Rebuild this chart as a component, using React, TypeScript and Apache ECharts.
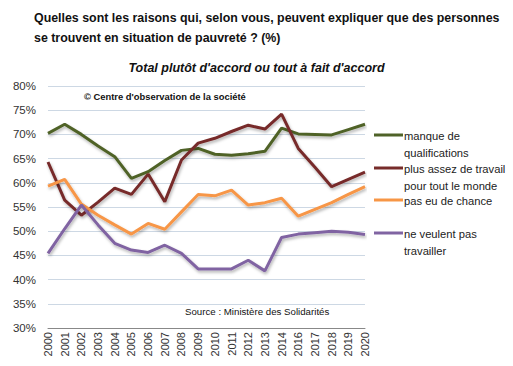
import React, { useEffect, useRef } from "react";
import * as echarts from "echarts";

const years = ["2000","2001","2002","2003","2004","2005","2006","2007","2008","2009","2010","2011","2012","2013","2014","2016","2017","2018","2019","2020"];
const manqueQualif = [70.2,72.1,70.0,67.6,65.4,60.9,62.3,64.6,66.7,67.1,65.9,65.7,66.0,66.5,71.3,70.1,70.0,69.9,71.0,72.1];
const plusAssezTravail = [64.3,56.4,53.3,56.0,58.9,57.6,61.8,56.1,64.7,68.2,69.2,70.6,71.9,71.1,74.2,67.1,63.2,59.2,60.7,62.2];
const pasEuChance = [59.3,60.7,55.6,53.3,51.3,49.4,51.6,50.4,54.0,57.6,57.3,58.5,55.4,55.9,56.8,53.1,54.5,55.9,57.6,59.2];
const neVeulentPas = [45.4,50.5,55.4,51.3,47.5,46.1,45.6,47.1,45.4,42.2,42.2,42.2,44.0,41.8,48.7,49.4,49.7,50.0,49.8,49.3];

const seriesNames = [
  "manque de\nqualifications",
  "plus assez de travail\npour tout le monde",
  "pas eu de chance",
  "ne veulent pas\ntravailler",
];
const colors = ["#4F6228", "#772C2A", "#F79646", "#8064A2"];
const yTicks = { min: 30, max: 80, interval: 5 };

const FONT = "Liberation Sans";

export default function App() {
  const ref = useRef<HTMLDivElement>(null);
  useEffect(() => {
    if (!ref.current) return;
    const chart = echarts.init(ref.current, null, { renderer: "svg" });
    const data = [manqueQualif, plusAssezTravail, pasEuChance, neVeulentPas];
    const legendY = [135, 168, 200, 233];
    const legendGraphics: any[] = [];
    seriesNames.forEach((n, i) => {
      legendGraphics.push({
        type: "line",
        shape: { x1: 374, y1: legendY[i], x2: 403, y2: legendY[i] },
        style: { stroke: colors[i], lineWidth: 3 },
      });
      legendGraphics.push({
        type: "text",
        x: 404,
        y: legendY[i] - 8,
        style: {
          text: n,
          font: `11.2px "${FONT}"`,
          fill: "#222",
          lineHeight: 17,
          textVerticalAlign: "top",
        },
      });
    });
    chart.setOption({
      animation: false,
      backgroundColor: "#fff",
      title: [
        {
          text: "Quelles sont les raisons qui, selon vous, peuvent expliquer que des personnes\nse trouvent en situation de pauvreté ? (%)",
          left: 29,
          top: 3,
          textStyle: { fontFamily: FONT, fontSize: 12.4, fontWeight: "bold", color: "#111", lineHeight: 20 },
        },
        {
          text: "Total plutôt d'accord ou tout à fait d'accord",
          left: "center",
          top: 56,
          textStyle: { fontFamily: FONT, fontSize: 12.5, fontWeight: "bold", fontStyle: "italic", color: "#111" },
        },
      ],
      grid: { left: 48, right: 148, top: 86, bottom: 38, containLabel: false },
      xAxis: {
        type: "category",
        data: years,
        boundaryGap: false,
        axisLine: { show: true, lineStyle: { color: "#888", width: 1 } },
        axisTick: { show: false },
        axisLabel: { rotate: 90, fontFamily: FONT, fontSize: 11, color: "#333", margin: 4 },
        splitLine: { show: false },
      },
      yAxis: {
        type: "value",
        min: yTicks.min,
        max: yTicks.max,
        interval: yTicks.interval,
        axisLine: { show: false },
        axisTick: { show: false },
        axisLabel: { formatter: "{value}%", fontFamily: FONT, fontSize: 11.5, color: "#333", margin: 12 },
        splitLine: { lineStyle: { color: "#CDD8E4", width: 1 } },
      },
      series: data.map((d, i) => ({
        name: seriesNames[i],
        type: "line",
        data: d,
        symbol: "none",
        lineStyle: {
          color: colors[i],
          width: 3,
          shadowColor: "rgba(0,0,0,0.3)",
          shadowBlur: 3,
          shadowOffsetX: 1,
          shadowOffsetY: 2,
        },
        itemStyle: { color: colors[i] },
      })),
      graphic: [
        {
          type: "text",
          x: 84,
          y: 92,
          style: { text: "© Centre d'observation de la société", font: `bold 9.4px "${FONT}"`, fill: "#111" },
        },
        {
          type: "text",
          x: 185,
          y: 306,
          style: { text: "Source : Ministère des Solidarités", font: `9.7px "${FONT}"`, fill: "#111" },
        },
        ...legendGraphics,
      ],
    });
    return () => chart.dispose();
  }, []);
  return <div ref={ref} style={{ width: 513, height: 366, position: "absolute", left: 0, top: 0 }} />;
}
